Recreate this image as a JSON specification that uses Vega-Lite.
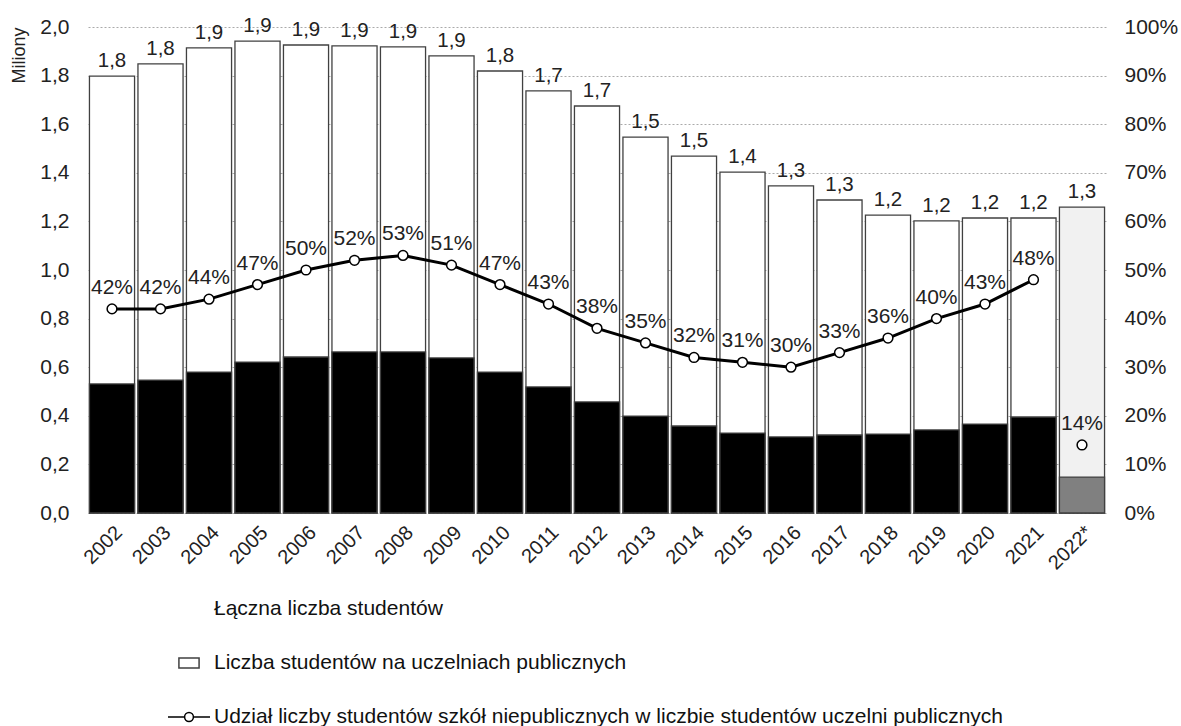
{
  "$schema": "https://vega.github.io/schema/vega-lite/v6.json",
  "width": 1018,
  "height": 486,
  "autosize": {"type": "none"},
  "padding": {"left": 88, "top": 27, "right": 75, "bottom": 213},
  "datasets": {
    "main": [
      {"year": "2002", "total": 1.798, "nonpub": 0.531, "share": 0.42},
      {"year": "2003", "total": 1.848, "nonpub": 0.547, "share": 0.42},
      {"year": "2004", "total": 1.914, "nonpub": 0.580, "share": 0.44},
      {"year": "2005", "total": 1.942, "nonpub": 0.621, "share": 0.47},
      {"year": "2006", "total": 1.926, "nonpub": 0.642, "share": 0.50},
      {"year": "2007", "total": 1.922, "nonpub": 0.663, "share": 0.52},
      {"year": "2008", "total": 1.918, "nonpub": 0.663, "share": 0.53},
      {"year": "2009", "total": 1.881, "nonpub": 0.638, "share": 0.51},
      {"year": "2010", "total": 1.819, "nonpub": 0.580, "share": 0.47},
      {"year": "2011", "total": 1.737, "nonpub": 0.519, "share": 0.43},
      {"year": "2012", "total": 1.675, "nonpub": 0.457, "share": 0.38},
      {"year": "2013", "total": 1.547, "nonpub": 0.399, "share": 0.35},
      {"year": "2014", "total": 1.469, "nonpub": 0.358, "share": 0.32},
      {"year": "2015", "total": 1.403, "nonpub": 0.329, "share": 0.31},
      {"year": "2016", "total": 1.346, "nonpub": 0.313, "share": 0.30},
      {"year": "2017", "total": 1.288, "nonpub": 0.321, "share": 0.33},
      {"year": "2018", "total": 1.226, "nonpub": 0.325, "share": 0.36},
      {"year": "2019", "total": 1.202, "nonpub": 0.342, "share": 0.40},
      {"year": "2020", "total": 1.214, "nonpub": 0.366, "share": 0.43},
      {"year": "2021", "total": 1.214, "nonpub": 0.395, "share": 0.48},
      {"year": "2022*", "total": 1.259, "nonpub": 0.148, "share": 0.14}
    ],
    "legend": [
      {"series": "Łączna liczba studentów"},
      {"series": "Liczba studentów na uczelniach publicznych"},
      {"series": "Udział liczby studentów szkół niepublicznych w liczbie studentów uczelni publicznych"}
    ]
  },
  "layer": [
    {
      "data": {"name": "main"},
      "encoding": {
        "x": {
          "field": "year", "type": "ordinal", "sort": null,
          "scale": {"paddingInner": 0.07, "paddingOuter": 0.03},
          "axis": {"title": null, "labelAngle": -45, "domain": false, "ticks": false, "labelPadding": 9, "labelFontSize": 20}
        }
      },
      "layer": [
        {
          "mark": {"type": "bar", "stroke": "#404040", "strokeWidth": 1.3},
          "encoding": {
            "y": {
              "field": "total", "type": "quantitative",
              "scale": {"domain": [0, 2], "nice": false},
              "axis": {"title": "Miliony", "format": ".1f", "values": [0, 0.2, 0.4, 0.6, 0.8, 1.0, 1.2, 1.4, 1.6, 1.8, 2.0],
                "grid": true, "gridDash": [2, 2], "gridColor": "#aaaaaa", "domain": false, "ticks": false,
                "labelPadding": 19, "titleAnchor": "end", "titlePadding": 11, "titleFontSize": 18, "titleFontWeight": "normal"}
            },
            "fill": {"condition": {"test": "datum.year === '2022*'", "value": "#f1f1f1"}, "value": "white"}
          }
        },
        {
          "mark": {"type": "bar", "stroke": "#404040", "strokeWidth": 1.3},
          "encoding": {
            "y": {
              "field": "nonpub", "type": "quantitative",
              "scale": {"domain": [0, 2], "nice": false},
              "axis": {"title": "Miliony", "format": ".1f", "values": [0, 0.2, 0.4, 0.6, 0.8, 1.0, 1.2, 1.4, 1.6, 1.8, 2.0],
                "grid": true, "gridDash": [2, 2], "gridColor": "#aaaaaa", "domain": false, "ticks": false,
                "labelPadding": 19, "titleAnchor": "end", "titlePadding": 11, "titleFontSize": 18, "titleFontWeight": "normal"}
            },
            "fill": {"condition": {"test": "datum.year === '2022*'", "value": "#808080"}, "value": "black"}
          }
        },
        {
          "mark": {"type": "text", "baseline": "alphabetic", "dy": -9, "fontSize": 20.5, "color": "#222"},
          "encoding": {
            "y": {"field": "total", "type": "quantitative"},
            "text": {"field": "total", "type": "quantitative", "format": ".1f"}
          }
        }
      ]
    },
    {
      "data": {"name": "main"},
      "encoding": {
        "x": {
          "field": "year", "type": "ordinal", "sort": null,
          "scale": {"paddingInner": 0.07, "paddingOuter": 0.03},
          "axis": {"title": null, "labelAngle": -45, "domain": false, "ticks": false, "labelPadding": 9, "labelFontSize": 20}
        },
        "y": {
          "field": "share", "type": "quantitative",
          "scale": {"domain": [0, 1], "nice": false},
          "axis": {"orient": "right", "title": null, "format": ".0%", "values": [0, 0.1, 0.2, 0.3, 0.4, 0.5, 0.6, 0.7, 0.8, 0.9, 1.0],
            "grid": false, "domain": false, "ticks": false, "labelPadding": 18}
        }
      },
      "layer": [
        {
          "transform": [{"filter": "datum.year !== '2022*'"}],
          "mark": {"type": "line", "color": "black", "strokeWidth": 3}
        },
        {
          "mark": {"type": "point", "filled": true, "fill": "white", "stroke": "black", "strokeWidth": 1.5, "size": 95, "opacity": 1}
        },
        {
          "mark": {"type": "text", "baseline": "alphabetic", "dy": -15, "fontSize": 21, "color": "#222"},
          "encoding": {"text": {"field": "share", "type": "quantitative", "format": ".0%"}}
        }
      ]
    },
    {
      "data": {"name": "legend"},
      "mark": {"type": "point", "filled": true, "opacity": 0},
      "encoding": {
        "fill": {
          "field": "series", "type": "nominal",
          "scale": {"domain": ["Łączna liczba studentów", "Liczba studentów na uczelniach publicznych", "Udział liczby studentów szkół niepublicznych w liczbie studentów uczelni publicznych"], "range": ["transparent", "white", "white"]},
          "legend": {"orient": "none", "legendX": 79, "legendY": 560, "direction": "vertical", "title": null, "labelFontSize": 21, "symbolSize": 1764, "symbolStrokeWidth": 1.5, "rowPadding": 22, "labelOffset": 3, "symbolOpacity": 1, "labelLimit": 1100, "padding": 0, "labelColor": "#111"}
        },
        "stroke": {
          "field": "series", "type": "nominal",
          "scale": {"domain": ["Łączna liczba studentów", "Liczba studentów na uczelniach publicznych", "Udział liczby studentów szkół niepublicznych w liczbie studentów uczelni publicznych"], "range": ["transparent", "#404040", "black"]},
          "legend": {"orient": "none", "legendX": 79, "legendY": 560, "direction": "vertical", "title": null, "labelFontSize": 21, "symbolSize": 1764, "symbolStrokeWidth": 1.5, "rowPadding": 22, "labelOffset": 3, "symbolOpacity": 1, "labelLimit": 1100, "padding": 0, "labelColor": "#111"}
        },
        "shape": {
          "field": "series", "type": "nominal",
          "scale": {"domain": ["Łączna liczba studentów", "Liczba studentów na uczelniach publicznych", "Udział liczby studentów szkół niepublicznych w liczbie studentów uczelni publicznych"], "range": ["M-0.48,-0.24H0.48V0.24H-0.48Z", "M-0.48,-0.24H0.48V0.24H-0.48Z", "M-1,0H-0.21M0.21,0H1M-0.21,0A0.21,0.21 0 1 0 0.21,0A0.21,0.21 0 1 0 -0.21,0"]},
          "legend": {"orient": "none", "legendX": 79, "legendY": 560, "direction": "vertical", "title": null, "labelFontSize": 21, "symbolSize": 1764, "symbolStrokeWidth": 1.5, "rowPadding": 22, "labelOffset": 3, "symbolOpacity": 1, "labelLimit": 1100, "padding": 0, "labelColor": "#111"}
        }
      }
    }
  ],
  "resolve": {"scale": {"y": "independent"}},
  "config": {
    "font": "Liberation Sans",
    "view": {"stroke": null},
    "axis": {"labelFontSize": 21, "labelColor": "#222", "titleColor": "#222"},
    "locale": {"number": {"decimal": ",", "thousands": " ", "grouping": [3], "currency": ["", " zł"]}}
  }
}
